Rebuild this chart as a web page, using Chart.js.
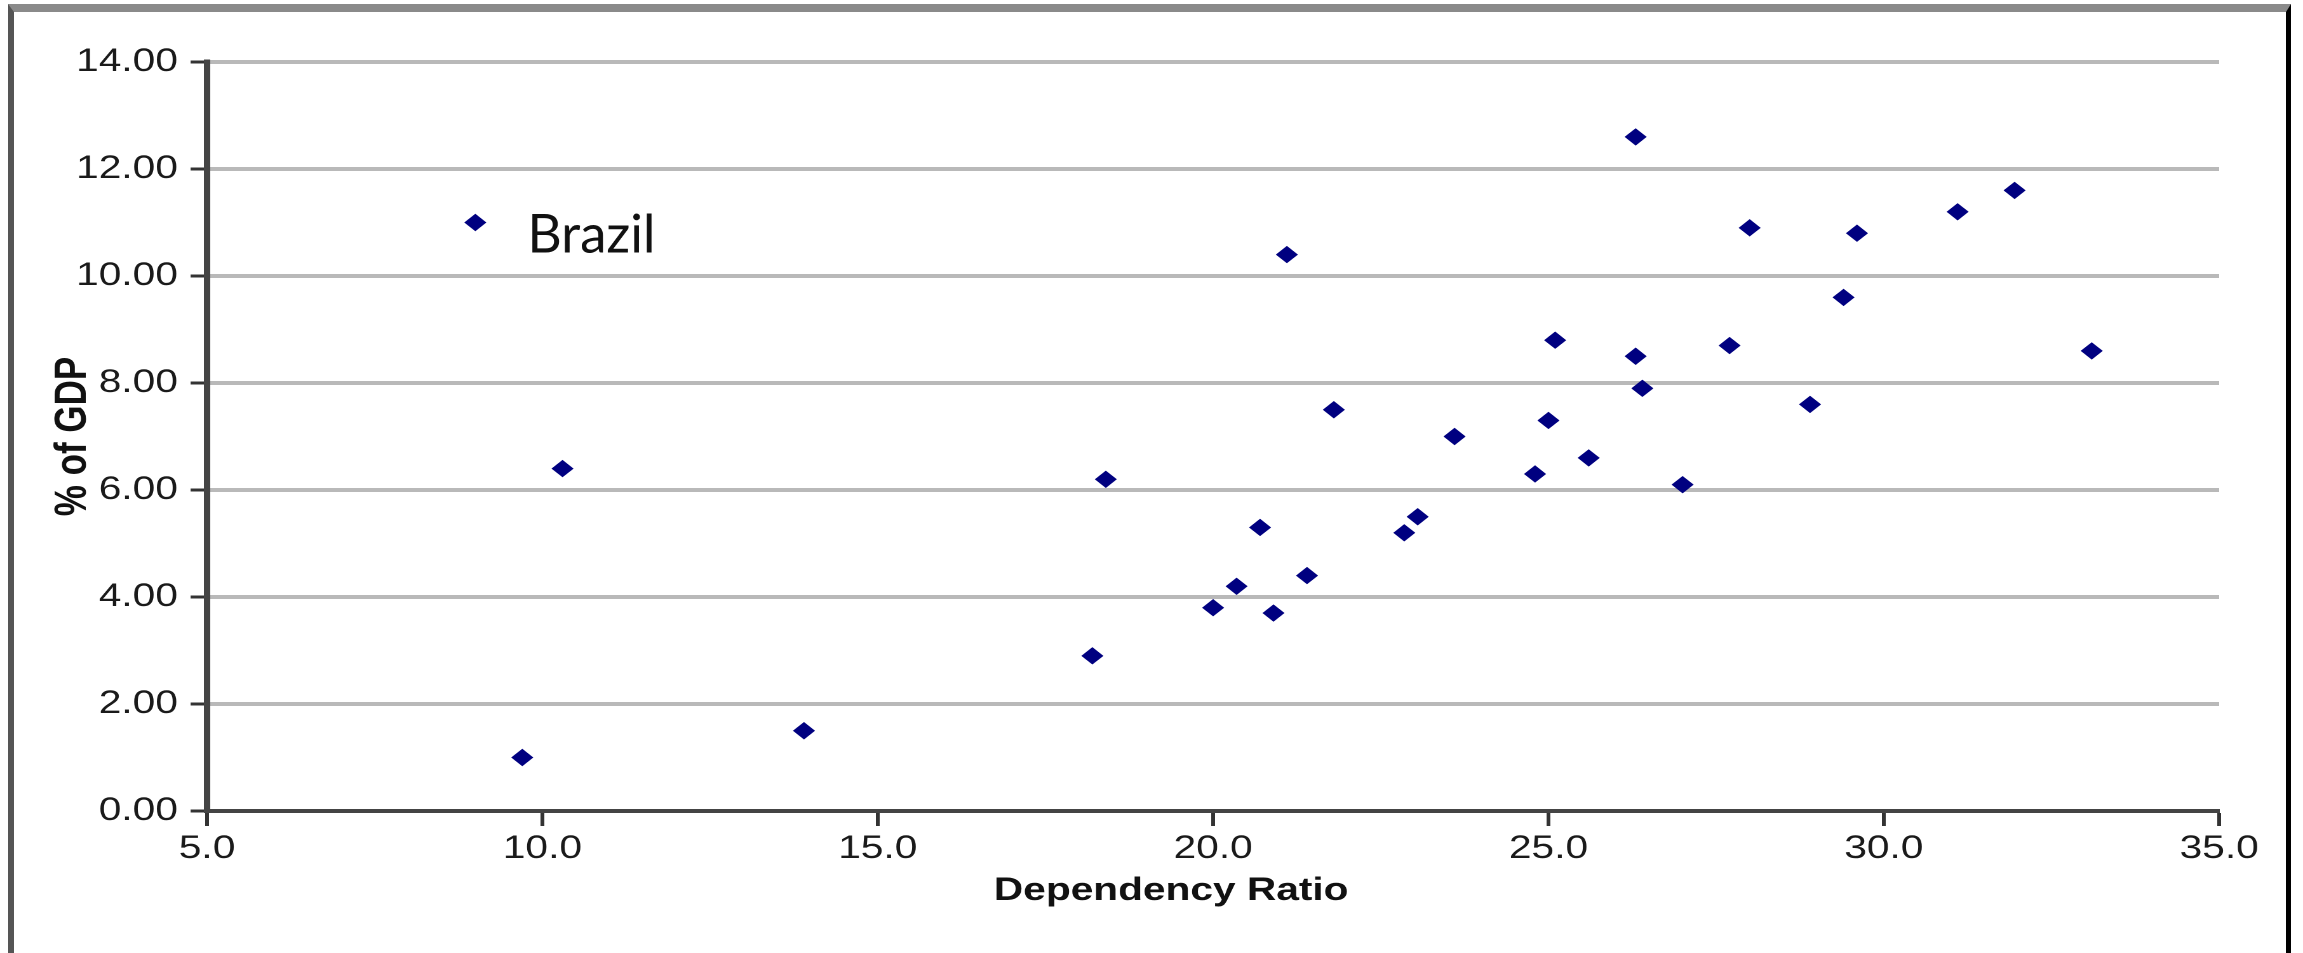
<!DOCTYPE html>
<html>
<head>
<meta charset="utf-8">
<script src="https://cdn.jsdelivr.net/npm/chart.js@4.4.0/dist/chart.umd.min.js"></script>
<style>
  body { margin: 0; background: #fff; }
  #wrap { position: relative; width: 2303px; height: 953px; overflow: hidden; }
  #chart { position: absolute; left: 0; top: 0; }
  #frame {
    position: absolute; left: 8px; top: 4px; width: 2272px; height: 1000px;
    border-top: 8px solid #8a8a8a; border-left: 6px solid #555; border-right: 5px solid #000;
    pointer-events: none;
  }
</style>
</head>
<body>
<div id="wrap">
  <canvas id="chart" width="1813" height="953" style="width:2303px;height:953px"></canvas>
  <div id="frame"></div>
</div>
<script>
// the source picture is stretched sideways, so the canvas is drawn narrower and widened by css
var stretch = 2303 / 1813

var dependencyRatio = [9.0, 10.3, 9.7, 13.9, 18.2, 18.4, 20.0, 20.35, 20.7, 20.9, 21.1, 21.4, 21.8, 22.85, 23.05, 23.6,
	24.8, 25.0, 25.1, 25.6, 26.3, 26.3, 26.4, 27.0, 27.7, 28.0, 28.9, 29.4, 29.6, 31.1, 31.95, 33.1]
var pctOfGdp = [11.0, 6.4, 1.0, 1.5, 2.9, 6.2, 3.8, 4.2, 5.3, 3.7, 10.4, 4.4, 7.5, 5.2, 5.5, 7.0,
	6.3, 7.3, 8.8, 6.6, 12.6, 8.5, 7.9, 6.1, 8.7, 10.9, 7.6, 9.6, 10.8, 11.2, 11.6, 8.6]

var xTicks = [5, 10, 15, 20, 25, 30, 35]
var yTicks = [0, 2, 4, 6, 8, 10, 12, 14]

var xTitle = 'Dependency Ratio'
var noteLabel = 'Brazil'
var notePoint = 0

var points = dependencyRatio.map(function(x, i){
	return {x: x, y: pctOfGdp[i]}
})

/* etiqueta Brazil y titulo del eje x (un poco a la izquierda del centro) */
var notePlugin = {
	id: 'notePlugin',
	afterDatasetsDraw: function(chart){
		var ctx = chart.ctx
		var area = chart.chartArea
		var px = chart.scales.x.getPixelForValue(dependencyRatio[notePoint])
		var py = chart.scales.y.getPixelForValue(pctOfGdp[notePoint])
		ctx.save()
		ctx.translate(px + 41, py + 30)
		ctx.scale(1 / stretch, 1)
		ctx.font = '53px Lato'
		ctx.fillStyle = '#111'
		ctx.textAlign = 'left'
		ctx.textBaseline = 'alphabetic'
		ctx.fillText(noteLabel, 0, 0)
		ctx.restore()

		ctx.save()
		ctx.font = 'bold 32px "Liberation Sans", Arial'
		ctx.fillStyle = '#111'
		ctx.textAlign = 'center'
		ctx.textBaseline = 'middle'
		ctx.fillText(xTitle, (area.left + area.right) / 2 - 33, area.bottom + 80)
		ctx.restore()
	}
}

var ctx = document.getElementById('chart').getContext('2d')
window.myScatter = new Chart(ctx, {
	type: 'scatter',
	data: {
		datasets: [{
			data: points,
			pointStyle: 'rectRot',
			pointRadius: 8,
			pointBorderWidth: 1,
			backgroundColor: '#000080',
			borderColor: '#000080'
		}]
	},
	options: {
		responsive: false,
		animation: false,
		devicePixelRatio: 2,
		layout: {
			padding: {left: 8, top: 62, right: 66, bottom: 0}
		},
		plugins: {
			legend: {display: false},
			tooltip: {enabled: false}
		},
		scales: {
			x: {
				type: 'linear',
				min: 5,
				max: 35,
				afterBuildTicks: function(scale){
					scale.ticks = xTicks.map(function(v){ return {value: v} })
				},
				afterFit: function(scale){
					scale.height = 142
				},
				grid: {
					drawOnChartArea: false,
					drawTicks: true,
					tickLength: 15,
					tickColor: '#333',
					tickWidth: 3
				},
				border: {color: '#444', width: 4},
				ticks: {
					color: '#1a1a1a',
					padding: 4,
					maxRotation: 0,
					font: {family: 'Liberation Sans, Arial', size: 32},
					callback: function(v){ return v.toFixed(1) }
				}
			},
			y: {
				type: 'linear',
				min: 0,
				max: 14,
				afterBuildTicks: function(scale){
					scale.ticks = yTicks.map(function(v){ return {value: v} })
				},
				afterFit: function(scale){
					scale.width = 155
				},
				grid: {
					color: '#b9b9b9',
					lineWidth: 4,
					drawTicks: true,
					tickLength: 13,
					tickColor: '#333',
					tickWidth: 3
				},
				border: {color: '#444', width: 5},
				ticks: {
					color: '#1a1a1a',
					padding: 10,
					font: {family: 'Liberation Sans, Arial', size: 32},
					callback: function(v){ return v.toFixed(2) }
				},
				title: {
					display: true,
					text: '% of GDP',
					color: '#111',
					font: {family: 'Liberation Sans, Arial', size: 35, weight: 'bold'},
					padding: {top: 29, bottom: 0}
				}
			}
		}
	},
	plugins: [notePlugin]
})
</script>
</body>
</html>
